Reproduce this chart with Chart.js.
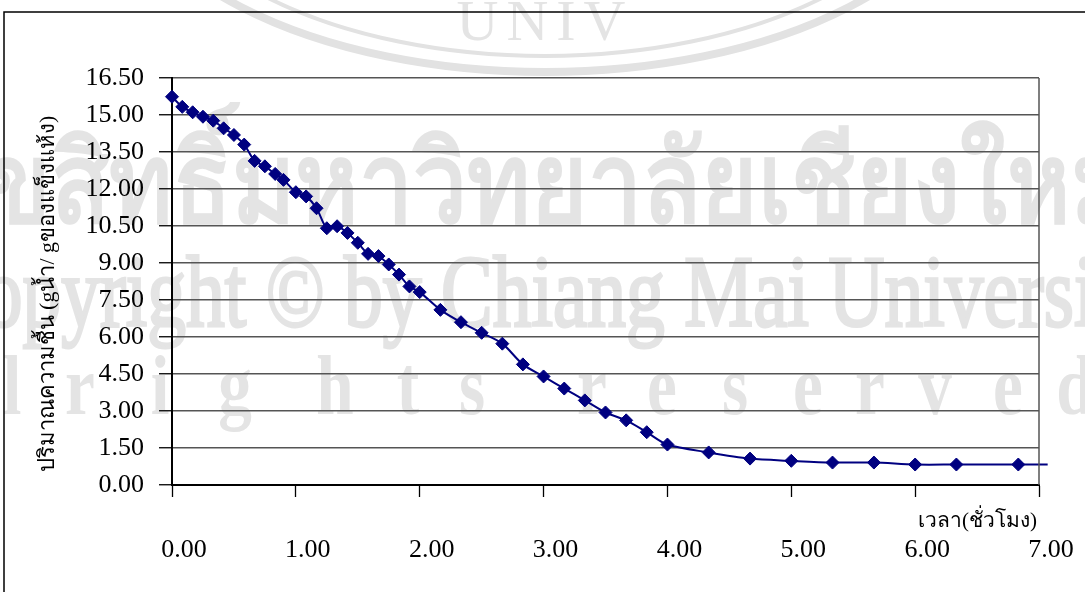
<!DOCTYPE html>
<html lang="th">
<head>
  <meta charset="UTF-8">
  <title>ปริมาณความชื้น</title>
  <script src="https://cdn.jsdelivr.net/npm/chart.js"></script>
  <style>
    body { margin: 0; background: #fff; }
    #wrap { width: 1085px; height: 592px; }
  </style>
</head>
<body>
  <div id="wrap"><canvas id="dry-chart" width="1085" height="592"></canvas></div>

  <script>
    // drying time (hours) and moisture content (g water / g dry solid)
    const hours = [0, 0.083, 0.167, 0.25, 0.333, 0.417, 0.5, 0.583, 0.667, 0.75,
      0.833, 0.9, 1.0, 1.083, 1.167, 1.25, 1.333, 1.417, 1.5, 1.583,
      1.667, 1.75, 1.833, 1.917, 2.0, 2.167, 2.333, 2.5, 2.667, 2.833,
      3.0, 3.167, 3.333, 3.5, 3.667, 3.833, 4.0, 4.333, 4.667, 5.0,
      5.333, 5.667, 6.0, 6.333, 6.833, 7.07];
    const moisture = [15.74, 15.33, 15.11, 14.93, 14.77, 14.46, 14.19, 13.80, 13.14, 12.92,
      12.61, 12.37, 11.87, 11.70, 11.22, 10.41, 10.49, 10.22, 9.82, 9.37,
      9.28, 8.94, 8.53, 8.05, 7.82, 7.10, 6.60, 6.17, 5.73, 4.89,
      4.40, 3.91, 3.43, 2.94, 2.62, 2.14, 1.64, 1.32, 1.07, 0.98,
      0.91, 0.91, 0.83, 0.83, 0.83, 0.83];
    // last sample only continues the line, no marker
    const markerSize = hours.map((h, i) => i === hours.length - 1 ? 0 : 6.5);

    const yTicks = { min: 0, max: 16.5, step: 1.5 };
    const xTicks = { min: 0, max: 7, step: 1 };
    const xTitle = 'เวลา(ชั่วโมง)';
    const yTitle = 'ปริมาณความชื้น (gน้ำ/ gของแข็งแห้ง)';

    // background watermark text
    const wmThai = 'ลิขสิทธิ์มหาวิทยาลัยเชียงใหม่';
    const wmCopy = 'Copyright © by Chiang Mai University';
    const wmRights = ['l', 'r', 'i', 'g', 'h', 't', 's', 'r', 'e', 's', 'e', 'r', 'v', 'e', 'd'];
    const wmRightsX = [12, 80, 160, 235, 335, 408, 472, 592, 662, 735, 808, 870, 935, 1008, 1075];

    const serif = "'Liberation Serif', 'Times New Roman', serif";

    const decor = {
      id: 'decor',
      beforeDraw(chart) {
        const ctx = chart.ctx;
        ctx.save();
        ctx.fillStyle = '#fff';
        ctx.fillRect(0, 0, chart.width, chart.height);

        // seal rings
        ctx.strokeStyle = '#e2e2e2';
        ctx.lineWidth = 8;
        ctx.beginPath();
        ctx.ellipse(545, -150, 430, 222, 0, 0, Math.PI);
        ctx.stroke();
        ctx.lineWidth = 4;
        ctx.beginPath();
        ctx.ellipse(545, -150, 398, 206, 0, 0, Math.PI);
        ctx.stroke();

        ctx.fillStyle = '#e4e4e4';
        ctx.textAlign = 'center';
        ctx.textBaseline = 'alphabetic';
        ctx.font = '58px ' + serif;
        ctx.letterSpacing = '8px';
        ctx.fillText('UNIV', 545, 40);
        ctx.letterSpacing = '0px';

        ctx.save();
        ctx.scale(0.86, 1);
        ctx.font = 'bold 112px ' + serif;
        ctx.fillText(wmThai, 530 / 0.86, 222);
        ctx.restore();

        ctx.save();
        ctx.scale(0.76, 1);
        ctx.textAlign = 'left';
        ctx.font = '102px ' + serif;
        ctx.strokeStyle = '#e4e4e4';
        ctx.lineWidth = 3;
        ctx.fillText(wmCopy, -68 / 0.76, 326);
        ctx.strokeText(wmCopy, -68 / 0.76, 326);
        ctx.restore();

        ctx.save();
        ctx.font = 'bold 84px ' + serif;
        wmRights.forEach((ch, i) => {
          ctx.save();
          ctx.translate(wmRightsX[i], 414);
          ctx.scale(0.8, 1);
          ctx.fillText(ch, 0, 0);
          ctx.restore();
        });
        ctx.restore();

        // page frame
        ctx.strokeStyle = '#000';
        ctx.lineWidth = 1.5;
        ctx.beginPath();
        ctx.moveTo(4, chart.height);
        ctx.lineTo(4, 12);
        ctx.lineTo(chart.width, 12);
        ctx.stroke();
        ctx.restore();
      },
      afterDraw(chart) {
        const ctx = chart.ctx;
        const a = chart.chartArea;
        ctx.save();
        ctx.strokeStyle = '#555';
        ctx.lineWidth = 1.5;
        ctx.beginPath();
        ctx.moveTo(a.right, a.top);
        ctx.lineTo(a.right, a.bottom);
        ctx.stroke();

        ctx.fillStyle = '#000';
        ctx.font = '21px ' + serif;
        ctx.textAlign = 'right';
        ctx.textBaseline = 'middle';
        ctx.fillText(xTitle, 1037, 521);

        ctx.font = '22px ' + serif;
        ctx.translate(48, 294);
        ctx.rotate(-Math.PI / 2);
        ctx.textAlign = 'center';
        ctx.fillText(yTitle, 0, 0);
        ctx.restore();
      }
    };

    new Chart(document.getElementById('dry-chart'), {
      type: 'line',
      data: {
        datasets: [{
          data: hours.map((h, i) => ({ x: h, y: moisture[i] })),
          borderColor: '#000080',
          backgroundColor: '#000080',
          borderWidth: 2,
          tension: 0.3,
          pointStyle: 'rectRot',
          pointRadius: markerSize,
          pointBorderWidth: 1,
          pointBorderColor: '#000080',
          pointBackgroundColor: '#000080',
          clip: false
        }]
      },
      options: {
        responsive: false,
        animation: false,
        layout: { padding: { top: 78, right: 46, left: 0, bottom: 0 } },
        plugins: { legend: { display: false }, tooltip: { enabled: false } },
        scales: {
          x: {
            type: 'linear',
            min: xTicks.min,
            max: xTicks.max,
            afterFit(scale) {
              scale.height = 107;
              scale.paddingLeft = 0;
              scale.paddingRight = 0;
            },
            border: { color: '#000', width: 2 },
            grid: { drawOnChartArea: false, drawTicks: true, tickLength: 12, tickColor: '#000', tickWidth: 1.3 },
            ticks: {
              stepSize: xTicks.step,
              padding: 38,
              labelOffset: 12,
              maxRotation: 0,
              color: '#000',
              font: { family: serif, size: 26 },
              callback: v => v.toFixed(2)
            }
          },
          y: {
            min: yTicks.min,
            max: yTicks.max,
            afterFit(scale) { scale.width = 172; },
            border: { color: '#000', width: 2 },
            grid: { color: '#555', lineWidth: 1.5, tickLength: 13, tickColor: '#000', tickWidth: 1.3 },
            ticks: {
              stepSize: yTicks.step,
              padding: 15,
              color: '#000',
              font: { family: serif, size: 26 },
              callback: v => v.toFixed(2)
            }
          }
        }
      },
      plugins: [decor]
    });
  </script>
</body>
</html>
